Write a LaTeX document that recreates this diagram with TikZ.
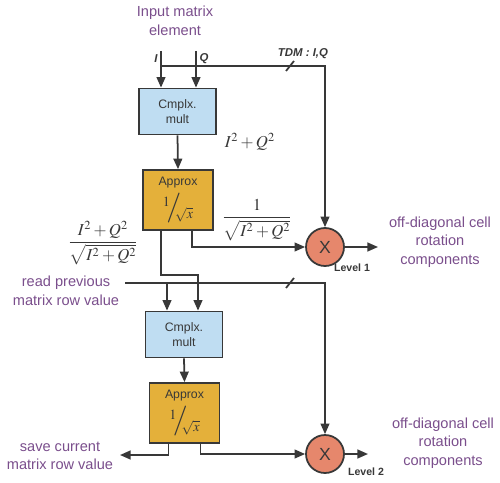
\documentclass[tikz,border=0pt]{standalone}
\usepackage{amsmath}
\usepackage{mathptmx}
\usepackage[no-math]{fontspec}
\setmainfont{Liberation Sans}
\usetikzlibrary{arrows.meta, positioning, calc}
\definecolor{lineG}{HTML}{383838}
\definecolor{blueA}{HTML}{BFDDF2}
\definecolor{goldA}{HTML}{E4B03A}
\definecolor{salmonA}{HTML}{E6876C}
\definecolor{purpleA}{HTML}{7A4E8C}
\newcommand{\rsqx}{{\fontsize{8}{8}\selectfont\raisebox{5pt}{$1$}\kern-2pt{\fontsize{17}{17}\selectfont$/$}\kern-3.5pt\raisebox{-1.5pt}{$\sqrt{x}$}}}

\begin{document}
\begin{tikzpicture}[
  x=0.02cm, y=-0.02cm,
  multbox/.style={
    draw=lineG, fill=blueA, text=lineG,
    font=\fontsize{7}{8.5}\selectfont,
    minimum width=1.54cm, minimum height=0.92cm,
    align=center, inner sep=1pt, line width=1pt
  },
  apxbox/.style={
    draw=lineG, fill=goldA, text=lineG,
    font=\fontsize{7}{8.5}\selectfont,
    minimum width=1.4cm, minimum height=1.2cm,
    align=center, inner sep=1pt, line width=1pt
  },
  mulnode/.style={
    circle, draw=lineG, fill=salmonA, text=lineG,
    minimum size=0.76cm, inner sep=0pt,
    font=\fontsize{10}{10}\selectfont, line width=1pt
  },
  lbl/.style={text=purpleA, font=\fontsize{8.3}{10.5}\selectfont, align=center},
  lvl/.style={text=lineG, font=\fontsize{6}{7}\selectfont\bfseries},
  sig/.style={text=lineG, font=\fontsize{6.5}{7}\selectfont\bfseries\itshape},
  mth/.style={text=lineG, font=\fontsize{9.5}{11}\selectfont},
  wire/.style={line width=1pt, lineG},
  arr/.style={-{Triangle[length=6pt,width=5pt]}, line width=1pt, lineG},
]
\useasboundingbox (0,0) rectangle (500,483);

%% ═══ LEVEL 1 ═══
\node[lbl] (inlbl) at (175,21) {Input matrix\\element};
\coordinate (inI) at (161,51);
\coordinate (inQ) at (196,51);
\coordinate (tdm) at (161,66);

\node[multbox] (cm1) at (177.5,111.5) {Cmplx.\\mult};
\node[apxbox] (ap1) at (178,200) {Approx\\[2pt]\rsqx};
\node[mulnode] (mul1) at (325,247) {X};

\node[sig] (lI) at (156,59) {I};
\node[sig] (lQ) at (204,59) {Q};
\node[sig] (ltdm) at (303,54) {TDM : I,Q};

\draw[arr] (inI) -- (inI |- cm1.north);
\draw[arr] (inQ) -- (inQ |- cm1.north);
\draw[arr] (tdm) -| (mul1.north);
\draw[wire] (286,71) -- (294,61);

\draw[arr] (cm1.south) -- (ap1.north);
\node[mth] (sq1) at (250,142) {$I^2+Q^2$};

\draw[arr] ($(ap1.south)+(14,0)$) |- (mul1.west);
\node[mth] (fr1) at (257,220) {$\dfrac{1}{\sqrt{I^2+Q^2}}$};

\coordinate (o1) at (378,247);
\draw[arr] (mul1.east) -- (o1);
\node[lvl] (lv1) at (352,268) {Level 1};
\node[lbl] (out1) at (440,242) {off-diagonal cell\\rotation\\components};

%% ═══ LEVEL 2 ═══
\node[mth] (fr2) at (103,243) {$\dfrac{I^2+Q^2}{\sqrt{I^2+Q^2}}$};
\node[lbl] (rdl) at (66,291) {read previous\\matrix row value};

\node[multbox] (cm2) at (184,334.5) {Cmplx.\\mult};
\node[apxbox] (ap2) at (184.5,413) {Approx\\[2pt]\rsqx};
\node[mulnode] (mul2) at (325,454) {X};

\coordinate (inL2) at ($(cm2.north)+(-17,0)$);
\coordinate (rd) at (125,283);
\draw[arr] ($(ap1.south)+(-17,0)$) -- ++(0,44) -| ($(cm2.north)+(14,0)$);
\draw[arr] (rd) -| (mul2.north);
\draw[arr] (inL2 |- rd) -- (inL2);
\draw[wire] (286,288) -- (294,278);

\draw[arr] (cm2.south) -- (ap2.north);

\coordinate (sv) at (120,455);
\draw[arr] ($(ap2.south)+(-16,0)$) |- (sv);
\node[lbl] (svl) at (60,456) {save current\\matrix row value};

\draw[arr] ($(ap2.south)+(16,0)$) |- (mul2.west);
\coordinate (o2) at (368,454);
\draw[arr] (mul2.east) -- (o2);
\node[lvl] (lv2) at (366,472) {Level 2};
\node[lbl] (out2) at (443,443) {off-diagonal cell\\rotation\\components};

\end{tikzpicture}
\end{document}
